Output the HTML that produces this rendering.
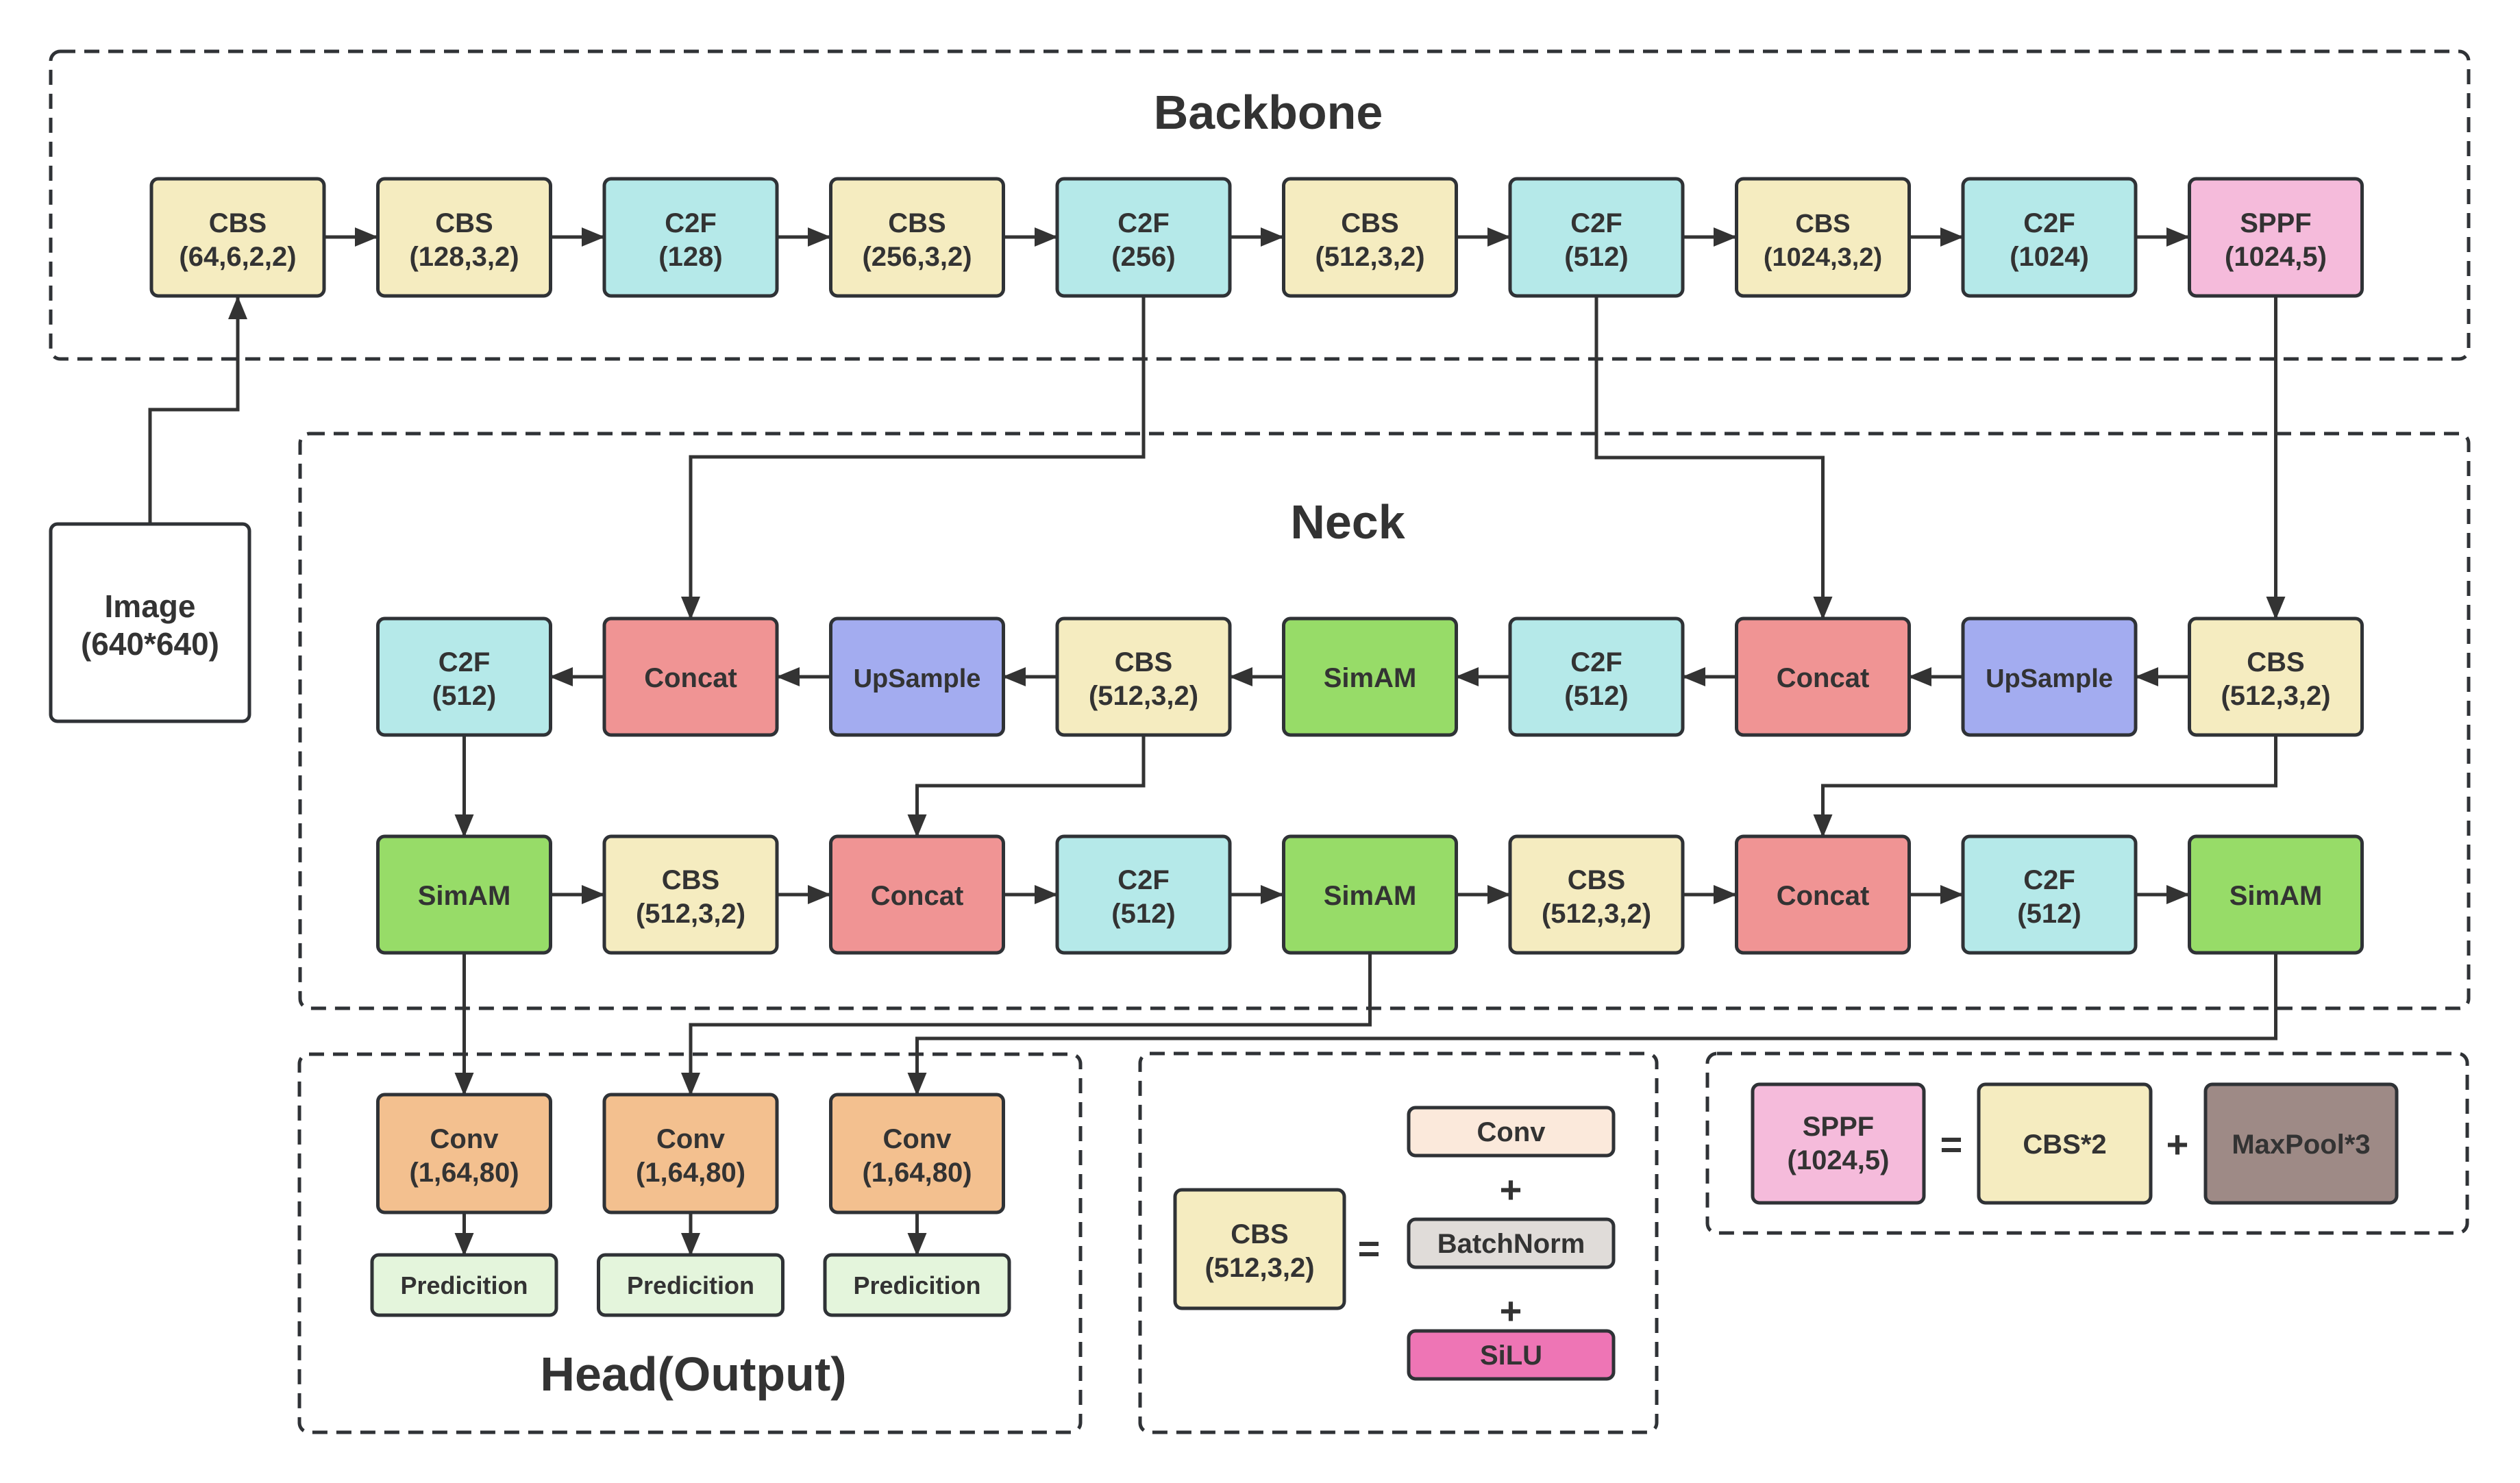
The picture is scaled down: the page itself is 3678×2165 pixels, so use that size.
<!DOCTYPE html>
<html><head><meta charset="utf-8"><style>
html,body{margin:0;padding:0;background:#fff;}
svg{display:block;}
text{font-family:"Liberation Sans",sans-serif;font-weight:bold;fill:#333;text-anchor:middle;}
</style></head><body>
<svg width="3678" height="2165" viewBox="0 0 3678 2165" xmlns="http://www.w3.org/2000/svg">
<defs>
<marker id="a" markerUnits="userSpaceOnUse" markerWidth="34" markerHeight="28" refX="32" refY="14" orient="auto">
<path d="M0,0 L34,14 L0,28 Z" fill="#333"/>
</marker>
</defs>
<g fill="none" stroke="#2f3236" stroke-width="5" stroke-dasharray="22 13">
<rect x="74" y="75" width="3529" height="449" rx="14"/>
<rect x="438" y="633" width="3165" height="839" rx="14"/>
<rect x="437" y="1539" width="1140" height="552" rx="14"/>
<rect x="1664" y="1538" width="754" height="553" rx="14"/>
<rect x="2492" y="1538" width="1109" height="262" rx="14"/>
</g>
<text x="1851" y="188" font-size="70">Backbone</text>
<text x="1967" y="786" font-size="70">Neck</text>
<text x="1012" y="2030" font-size="70">Head(Output)</text>

<g stroke="#333" stroke-width="5" fill="none" marker-end="url(#a)">
<!-- image to CBS -->
<path d="M219,765 V598 H347 V434"/>
<!-- backbone arrows -->
<path d="M473,346 H550"/><path d="M804,346 H881"/><path d="M1134,346 H1211"/><path d="M1465,346 H1542"/><path d="M1795,346 H1872"/><path d="M2126,346 H2203"/><path d="M2456,346 H2533"/><path d="M2787,346 H2864"/><path d="M3117,346 H3194"/>
<!-- backbone to neck -->
<path d="M1669,432 V667 H1008 V903"/>
<path d="M2330,432 V668 H2660.5 V903"/>
<path d="M3321.5,432 V903"/>
<!-- row1 leftward -->
<path d="M3195,988 H3118"/><path d="M2864,988 H2787"/><path d="M2534,988 H2457"/><path d="M2203,988 H2126"/><path d="M1873,988 H1796"/><path d="M1542,988 H1465"/><path d="M1212,988 H1135"/><path d="M881,988 H804"/>
<!-- row1 to row2 -->
<path d="M677.5,1073 V1221"/>
<path d="M1669,1073 V1147 H1338.5 V1221"/>
<path d="M3321.5,1073 V1147 H2660.5 V1221"/>
<!-- row2 rightward -->
<path d="M804,1306 H881"/><path d="M1134,1306 H1211"/><path d="M1465,1306 H1542"/><path d="M1795,1306 H1872"/><path d="M2126,1306 H2203"/><path d="M2456,1306 H2533"/><path d="M2787,1306 H2864"/><path d="M3117,1306 H3194"/>
<!-- to head -->
<path d="M677.5,1391 V1598"/>
<path d="M1999.5,1391 V1496 H1008 V1598"/>
<path d="M3321.5,1391 V1516 H1338.5 V1598"/>
<path d="M677.5,1770 V1832"/><path d="M1008,1770 V1832"/><path d="M1338.5,1770 V1832"/>
</g>

<g stroke="#2f3236" stroke-width="5">
<rect x="74" y="765" width="290" height="288" rx="10" fill="#fff"/>
<!-- backbone -->
<rect x="221" y="261" width="252" height="171" rx="10" fill="#f5ecc0"/>
<rect x="551.5" y="261" width="252" height="171" rx="10" fill="#f5ecc0"/>
<rect x="882" y="261" width="252" height="171" rx="10" fill="#b5e9e9"/>
<rect x="1212.5" y="261" width="252" height="171" rx="10" fill="#f5ecc0"/>
<rect x="1543" y="261" width="252" height="171" rx="10" fill="#b5e9e9"/>
<rect x="1873.5" y="261" width="252" height="171" rx="10" fill="#f5ecc0"/>
<rect x="2204" y="261" width="252" height="171" rx="10" fill="#b5e9e9"/>
<rect x="2534.5" y="261" width="252" height="171" rx="10" fill="#f5ecc0"/>
<rect x="2865" y="261" width="252" height="171" rx="10" fill="#b5e9e9"/>
<rect x="3195.5" y="261" width="252" height="171" rx="10" fill="#f5bbdb"/>
<!-- row1 -->
<rect x="551.5" y="903" width="252" height="170" rx="10" fill="#b5e9e9"/>
<rect x="882" y="903" width="252" height="170" rx="10" fill="#f09494"/>
<rect x="1212.5" y="903" width="252" height="170" rx="10" fill="#a3acf0"/>
<rect x="1543" y="903" width="252" height="170" rx="10" fill="#f5ecc0"/>
<rect x="1873.5" y="903" width="252" height="170" rx="10" fill="#97dc68"/>
<rect x="2204" y="903" width="252" height="170" rx="10" fill="#b5e9e9"/>
<rect x="2534.5" y="903" width="252" height="170" rx="10" fill="#f09494"/>
<rect x="2865" y="903" width="252" height="170" rx="10" fill="#a3acf0"/>
<rect x="3195.5" y="903" width="252" height="170" rx="10" fill="#f5ecc0"/>
<!-- row2 -->
<rect x="551.5" y="1221" width="252" height="170" rx="10" fill="#97dc68"/>
<rect x="882" y="1221" width="252" height="170" rx="10" fill="#f5ecc0"/>
<rect x="1212.5" y="1221" width="252" height="170" rx="10" fill="#f09494"/>
<rect x="1543" y="1221" width="252" height="170" rx="10" fill="#b5e9e9"/>
<rect x="1873.5" y="1221" width="252" height="170" rx="10" fill="#97dc68"/>
<rect x="2204" y="1221" width="252" height="170" rx="10" fill="#f5ecc0"/>
<rect x="2534.5" y="1221" width="252" height="170" rx="10" fill="#f09494"/>
<rect x="2865" y="1221" width="252" height="170" rx="10" fill="#b5e9e9"/>
<rect x="3195.5" y="1221" width="252" height="170" rx="10" fill="#97dc68"/>
<!-- head -->
<rect x="551.5" y="1598" width="252" height="172" rx="10" fill="#f3c08f"/>
<rect x="882" y="1598" width="252" height="172" rx="10" fill="#f3c08f"/>
<rect x="1212.5" y="1598" width="252" height="172" rx="10" fill="#f3c08f"/>
<rect x="543" y="1832" width="269" height="88" rx="10" fill="#e4f5dc"/>
<rect x="873.5" y="1832" width="269" height="88" rx="10" fill="#e4f5dc"/>
<rect x="1204" y="1832" width="269" height="88" rx="10" fill="#e4f5dc"/>
<!-- CBS legend -->
<rect x="1715" y="1737" width="247" height="173" rx="10" fill="#f5ecc0"/>
<rect x="2056" y="1617" width="299" height="70" rx="10" fill="#fbe9db"/>
<rect x="2056" y="1780" width="299" height="70" rx="10" fill="#e0dcd9"/>
<rect x="2056" y="1943" width="299" height="70" rx="10" fill="#ee75b5"/>
<!-- SPPF legend -->
<rect x="2558" y="1583" width="250" height="173" rx="10" fill="#f5bbdb"/>
<rect x="2888" y="1583" width="251" height="173" rx="10" fill="#f5ecc0"/>
<rect x="3219" y="1583" width="279" height="173" rx="10" fill="#9e8a86"/>
</g>

<g font-size="40">
<text x="219" y="901" font-size="46">Image</text><text x="219" y="956" font-size="46">(640*640)</text>
<text x="347" y="339">CBS</text><text x="347" y="388">(64,6,2,2)</text>
<text x="677.5" y="339">CBS</text><text x="677.5" y="388">(128,3,2)</text>
<text x="1008" y="339">C2F</text><text x="1008" y="388">(128)</text>
<text x="1338.5" y="339">CBS</text><text x="1338.5" y="388">(256,3,2)</text>
<text x="1669" y="339">C2F</text><text x="1669" y="388">(256)</text>
<text x="1999.5" y="339">CBS</text><text x="1999.5" y="388">(512,3,2)</text>
<text x="2330" y="339">C2F</text><text x="2330" y="388">(512)</text>
<text x="2660.5" y="339" font-size="38">CBS</text><text x="2660.5" y="388" font-size="38">(1024,3,2)</text>
<text x="2991" y="339">C2F</text><text x="2991" y="388">(1024)</text>
<text x="3321.5" y="339">SPPF</text><text x="3321.5" y="388">(1024,5)</text>

<text x="677.5" y="980">C2F</text><text x="677.5" y="1029">(512)</text>
<text x="1008" y="1003">Concat</text>
<text x="1338.5" y="1003" font-size="38">UpSample</text>
<text x="1669" y="980">CBS</text><text x="1669" y="1029">(512,3,2)</text>
<text x="1999.5" y="1003">SimAM</text>
<text x="2330" y="980">C2F</text><text x="2330" y="1029">(512)</text>
<text x="2660.5" y="1003">Concat</text>
<text x="2991" y="1003" font-size="38">UpSample</text>
<text x="3321.5" y="980">CBS</text><text x="3321.5" y="1029">(512,3,2)</text>

<text x="677.5" y="1321">SimAM</text>
<text x="1008" y="1298">CBS</text><text x="1008" y="1347">(512,3,2)</text>
<text x="1338.5" y="1321">Concat</text>
<text x="1669" y="1298">C2F</text><text x="1669" y="1347">(512)</text>
<text x="1999.5" y="1321">SimAM</text>
<text x="2330" y="1298">CBS</text><text x="2330" y="1347">(512,3,2)</text>
<text x="2660.5" y="1321">Concat</text>
<text x="2991" y="1298">C2F</text><text x="2991" y="1347">(512)</text>
<text x="3321.5" y="1321">SimAM</text>

<text x="677.5" y="1676">Conv</text><text x="677.5" y="1725">(1,64,80)</text>
<text x="1008" y="1676">Conv</text><text x="1008" y="1725">(1,64,80)</text>
<text x="1338.5" y="1676">Conv</text><text x="1338.5" y="1725">(1,64,80)</text>
<text x="677.5" y="1889" font-size="36">Predicition</text>
<text x="1008" y="1889" font-size="36">Predicition</text>
<text x="1338.5" y="1889" font-size="36">Predicition</text>

<text x="1838.5" y="1815">CBS</text><text x="1838.5" y="1864">(512,3,2)</text>
<text x="1998" y="1842" font-size="56">=</text>
<text x="2205.5" y="1666">Conv</text>
<text x="2205" y="1756" font-size="56">+</text>
<text x="2205.5" y="1829">BatchNorm</text>
<text x="2205" y="1933" font-size="56">+</text>
<text x="2205.5" y="1992">SiLU</text>

<text x="2683" y="1658">SPPF</text><text x="2683" y="1707">(1024,5)</text>
<text x="2848" y="1690" font-size="56">=</text>
<text x="3013.5" y="1684">CBS*2</text>
<text x="3178" y="1690" font-size="56">+</text>
<text x="3358.5" y="1684">MaxPool*3</text>
</g>
</svg>
</body></html>
